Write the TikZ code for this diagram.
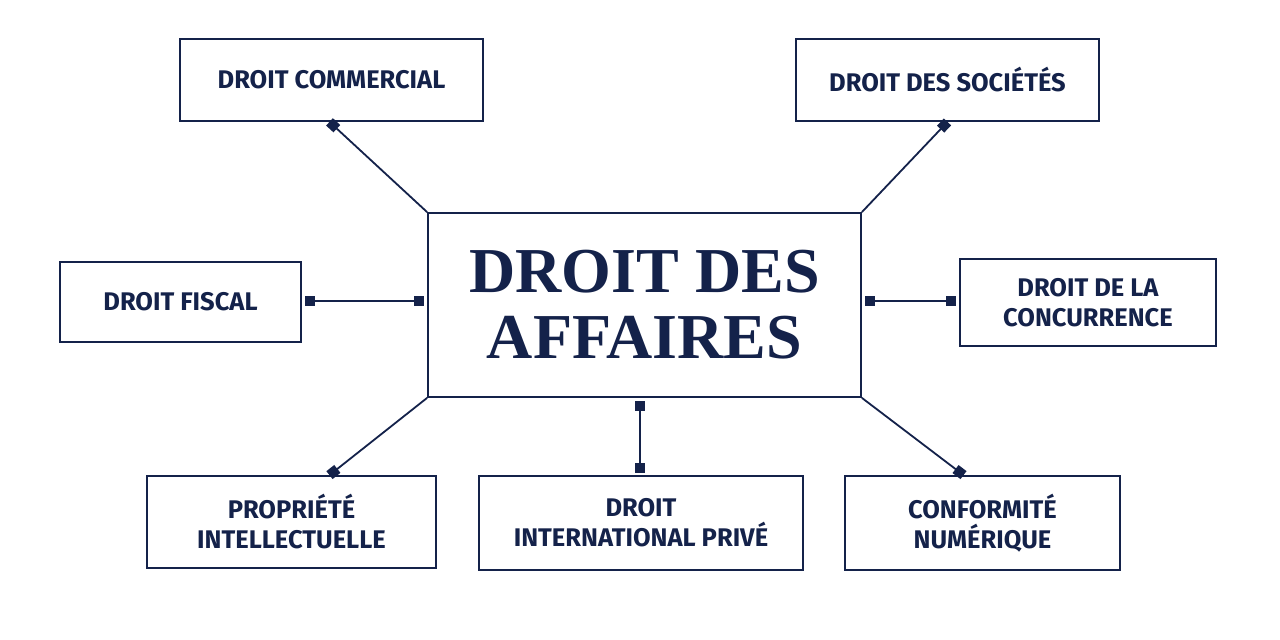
\documentclass[tikz,border=0pt]{standalone}
\usepackage{fontspec}
\setsansfont{Fira Sans}
\setmainfont{Liberation Serif}
\usetikzlibrary{arrows.meta,calc}
\definecolor{navy}{HTML}{14224A}
\begin{document}
\begin{tikzpicture}[x=1pt,y=-1pt,
  box/.style={draw=navy,line width=1.8pt,text=navy,font=\sffamily\bfseries\fontsize{25.5}{30}\selectfont,align=center,inner sep=0pt},
  link/.style={draw=navy,line width=1.8pt},
  sq/.tip={Square[length=10pt,width=10pt]}]
\useasboundingbox[fill=white] (0,0) rectangle (1280,640);
\newcommand\bx[6]{\node[box,minimum width=#4-#2,minimum height=#5-#3] (#1) at ({(#2+#4)/2},{(#3+#5)/2}) {#6};}
\node[draw=navy,line width=1.8pt,text=navy,align=center,inner sep=0pt,minimum width=433,minimum height=184,font=\bfseries\fontsize{64}{66}\selectfont] (c) at (644.5,305) {DROIT DES\\AFFAIRES};
\bx{a}{180}{39}{483}{121}{DROIT COMMERCIAL}
\bx{b}{796}{39}{1099}{121}{DROIT DES SOCIÉTÉS}
\bx{f}{60}{262}{301}{342}{DROIT FISCAL}
\bx{r}{960}{259}{1216}{346}{DROIT DE LA\\CONCURRENCE}
\bx{p}{147}{476}{436}{568}{PROPRIÉTÉ\\INTELLECTUELLE}
\bx{i}{479}{476}{803}{570}{DROIT\\INTERNATIONAL PRIVÉ}
\bx{n}{845}{476}{1120}{570}{CONFORMITÉ\\NUMÉRIQUE}
\draw[link,-sq] (c.north west) -- ($(a.south)+(-2,0)$);
\draw[link,-sq] (c.north east) -- ($(b.south)+(0,0)$);
\draw[link,-sq] (c.south west) -- ($(p.north)+(38,0)$);
\draw[link,-sq] (c.south east) -- ($(n.north)+(-19,0)$);
\coordinate (fe) at ($(f.east)+(0,-1)$);
\coordinate (re) at ($(r.west)+(0,-1.5)$);
\coordinate (ie) at ($(c.south)+(-4.5,0)$);
\draw[link,sq-sq,shorten <=3pt,shorten >=3pt] (fe) -- (c.west |- fe);
\draw[link,sq-sq,shorten <=3pt,shorten >=3pt] (c.east |- re) -- (re);
\draw[link,sq-sq,shorten <=3pt,shorten >=2pt] (ie) -- (ie |- i.north);
\end{tikzpicture}
\end{document}
